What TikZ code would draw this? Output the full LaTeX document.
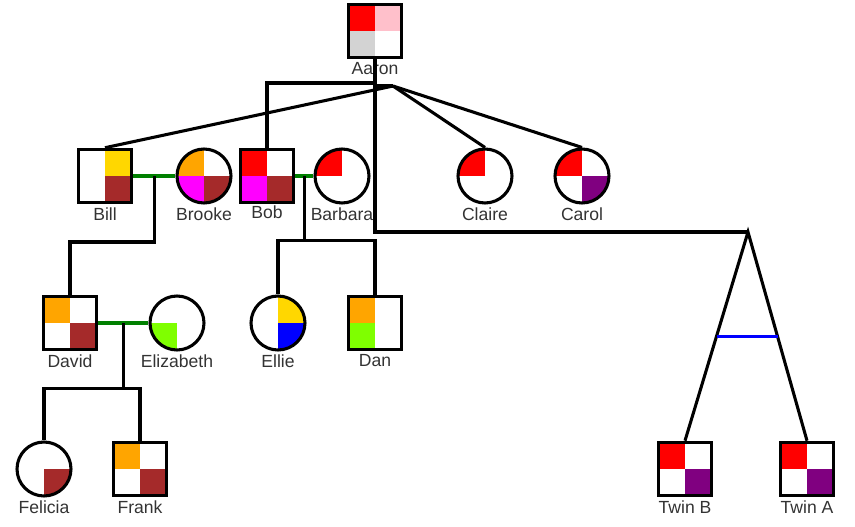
\documentclass[tikz,border=0pt]{standalone}
\usepackage{fontspec}
\setmainfont{Liberation Sans}
\usepackage{xcolor}
\usetikzlibrary{positioning,calc}

\definecolor{pedred}{HTML}{FF0000}
\definecolor{pedpink}{HTML}{FFC0CB}
\definecolor{pedgray}{HTML}{D3D3D3}
\definecolor{pedgold}{HTML}{FFD700}
\definecolor{pedbrown}{HTML}{A52A2A}
\definecolor{pedorange}{HTML}{FFA500}
\definecolor{pedmagenta}{HTML}{FF00FF}
\definecolor{pedpurple}{HTML}{800080}
\definecolor{pedlime}{HTML}{7FFF00}
\definecolor{pedblue}{HTML}{0000FF}
\definecolor{wedgreen}{HTML}{008000}
\definecolor{labelgray}{HTML}{333333}

\begin{document}
\begin{tikzpicture}[
    x=0.02cm, y=-0.02cm,
    line width=1.75pt,
    font=\fontsize{10}{12}\selectfont,
    male/.style={draw,rectangle,minimum size=1.07cm,inner sep=0pt},
    female/.style={draw,circle,minimum size=1.08cm,inner sep=0pt},
    quads/.style n args={4}{path picture={
        \fill[#1] (path picture bounding box.center) rectangle (path picture bounding box.north west);
        \fill[#2] (path picture bounding box.center) rectangle (path picture bounding box.north east);
        \fill[#3] (path picture bounding box.center) rectangle (path picture bounding box.south west);
        \fill[#4] (path picture bounding box.center) rectangle (path picture bounding box.south east);}},
    lbl/.style={text=labelgray,inner sep=1pt},
    marriage/.style={draw=wedgreen},
    twinbar/.style={draw=pedblue},
]
    \useasboundingbox (0,0) rectangle (855,527);

    % generation 1
    \node[male,quads={pedred}{pedpink}{pedgray}{white}] (aaron) at (375,31) {};
    \node[lbl,below=0pt of aaron] (aaronL) {Aaron};

    % generation 2
    \node[male,quads={white}{pedgold}{white}{pedbrown}] (bill) at (105,176) {};
    \node[female,quads={pedorange}{white}{pedmagenta}{pedbrown}] (brooke) at (204,176) {};
    \node[male,quads={pedred}{white}{pedmagenta}{pedbrown}] (bob) at (267,176) {};
    \node[female,quads={pedred}{white}{white}{white}] (barbara) at (342,176) {};
    \node[female,quads={pedred}{white}{white}{white}] (claire) at (485,176) {};
    \node[female,quads={pedred}{white}{white}{pedpurple}] (carol) at (582,176) {};
    \node[lbl,below=0pt of bill] (billL) {Bill};
    \node[lbl,below=0pt of brooke] (brookeL) {Brooke};
    \node[lbl,below=-1pt of bob] (bobL) {Bob};
    \node[lbl,below=0pt of barbara] (barbaraL) {Barbara};
    \node[lbl,below=0pt of claire] (claireL) {Claire};
    \node[lbl,below=0pt of carol] (carolL) {Carol};

    % generation 3
    \node[male,quads={pedorange}{white}{white}{pedbrown}] (david) at (70,323) {};
    \node[female,quads={white}{white}{pedlime}{white}] (elizabeth) at (177,323) {};
    \node[female,quads={white}{pedgold}{white}{pedblue}] (ellie) at (278,323) {};
    \node[male,quads={pedorange}{white}{pedlime}{white}] (dan) at (375,323) {};
    \node[lbl,below=0pt of david] (davidL) {David};
    \node[lbl,below=0pt of elizabeth] (elizabethL) {Elizabeth};
    \node[lbl,below=0pt of ellie] (ellieL) {Ellie};
    \node[lbl,below=0pt of dan] (danL) {Dan};

    % generation 4
    \node[female,quads={white}{white}{white}{pedbrown}] (felicia) at (44,469) {};
    \node[male,quads={pedorange}{white}{white}{pedbrown}] (frank) at (140,469) {};
    \node[male,quads={pedred}{white}{white}{pedpurple}] (twinB) at (685,469) {};
    \node[male,quads={pedred}{white}{white}{pedpurple}] (twinA) at (807,469) {};
    \node[lbl,below=0pt of felicia] (feliciaL) {Felicia};
    \node[lbl,below=0pt of frank] (frankL) {Frank};
    \node[lbl,below=0pt of twinB] (twinBL) {Twin B};
    \node[lbl,below=0pt of twinA] (twinAL) {Twin A};

    % Aaron's children
    \coordinate (hub) at (393,86);
    \coordinate (bobknee) at (267,83);
    \coordinate (twinfork) at (748,232);
    \draw (aaron.south) -- (aaron.south |- twinfork) -- (twinfork);
    \draw (aaron.south |- bobknee) -- (bobknee) -- (bob.north);
    \draw (aaron.south |- hub) -- (hub);
    \draw (hub) -- (bill.north);
    \draw (hub) -- (claire.north);
    \draw (hub) -- (carol.north);
    \draw (twinB.north) -- (twinfork) -- (twinA.north);
    \draw[twinbar] ($(twinfork)!0.5!(twinB.north)$) -- ($(twinfork)!0.5!(twinA.north)$);

    % couples and their children
    \draw[marriage] (bill.east) -- (brooke.west);
    \coordinate (bbmid) at ($(bill.east)!0.5!(brooke.west)$);
    \draw (bbmid) -- ++(0,66) -| (david.north);

    \draw[marriage] (bob.east) -- (barbara.west);
    \coordinate (bobmid) at ($(bob.east)!0.5!(barbara.west)$);
    \draw (bobmid) -- ++(0,66);
    \draw (ellie.north) -- ++(0,-54) -| (dan.north);

    \draw[marriage] (david.east) -- (elizabeth.west);
    \coordinate (demid) at ($(david.east)!0.5!(elizabeth.west)$);
    \draw (demid) -- ++(0,66);
    \draw (felicia.north) -- ++(0,-52) -| (frank.north);
\end{tikzpicture}
\end{document}
